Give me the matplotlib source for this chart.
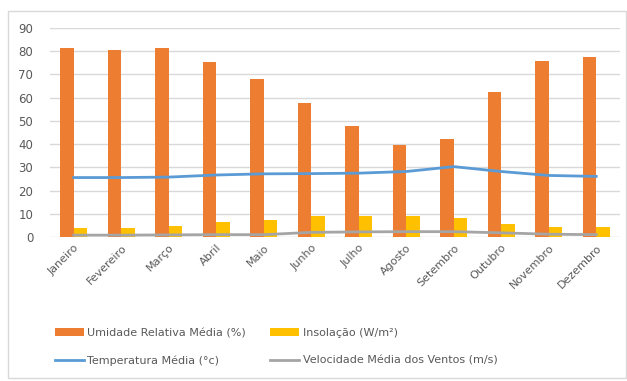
import matplotlib
matplotlib.use("Agg")
import matplotlib.pyplot as plt
import numpy as np
from matplotlib.patches import Rectangle

months = ["Janeiro", "Fevereiro", "Março", "Abril", "Maio", "Junho", "Julho",
          "Agosto", "Setembro", "Outubro", "Novembro", "Dezembro"]
umidade = [81.5, 80.5, 81.5, 75.5, 68, 57.5, 48, 39.5, 42, 62.5, 76, 77.5]
insolacao = [3.8, 3.8, 4.7, 6.3, 7.3, 9, 9, 9, 8, 5.6, 4.4, 4.4]
temperatura = [25.6, 25.6, 25.8, 26.7, 27.2, 27.3, 27.5, 28.2, 30.3, 28.2, 26.5, 26.1]
vento = [0.8, 0.8, 0.9, 1.0, 1.0, 2.0, 2.2, 2.3, 2.3, 1.8, 1.2, 1.0]
yticks = list(range(0, 100, 10))

c_or = "#ED7D31"
c_ye = "#FFC000"
c_bl = "#5B9BD5"
c_gr = "#A5A5A5"
txt = "#595959"

fig = plt.figure(figsize=(6.27, 3.81), dpi=100)
fig.patches.append(Rectangle((8/627, 1 - 378/381), 618/627, 367/381, transform=fig.transFigure,
                             fill=False, edgecolor="#D9D9D9", lw=1))
ax = fig.add_axes([50/627, 1 - 237/381, 570/627, (237 - 28)/381])

x = np.arange(len(months))
w = 0.285
b1 = ax.bar(x - w/2, umidade, w, color=c_or, label="Umidade Relativa Média (%)", zorder=2)
b2 = ax.bar(x + w/2, insolacao, w, color=c_ye, label="Insolação (W/m²)", zorder=2)
l1, = ax.plot(x, temperatura, color=c_bl, lw=2, label="Temperatura Média (°c)", zorder=3)
l2, = ax.plot(x, vento, color=c_gr, lw=2, label="Velocidade Média dos Ventos (m/s)", zorder=3)

ax.set_xlim(-0.5, 11.5)
ax.set_ylim(0, 90)
ax.set_yticks(yticks)
ax.set_yticklabels([str(v) for v in yticks], color=txt, fontsize=8.5)
ax.yaxis.grid(True, color="#D9D9D9", lw=1, zorder=0)
ax.set_axisbelow(True)
for s in ax.spines.values():
    s.set_visible(False)
ax.tick_params(axis="y", length=0, pad=12)
ax.tick_params(axis="x", length=0, pad=4)
ax.set_xticks(x)
ax.set_xticklabels(months, rotation=45, ha="right", rotation_mode="anchor", color=txt, fontsize=8)

leg = fig.legend(handles=[b1, l1, b2, l2], ncol=2, loc="upper left",
                 bbox_to_anchor=(45/627, 1 - 318/381), frameon=False, fontsize=8,
                 labelcolor=txt, handlelength=2.6, columnspacing=2.2, handletextpad=0.3,
                 labelspacing=1.6)

fig.savefig("out.png", dpi=100)
